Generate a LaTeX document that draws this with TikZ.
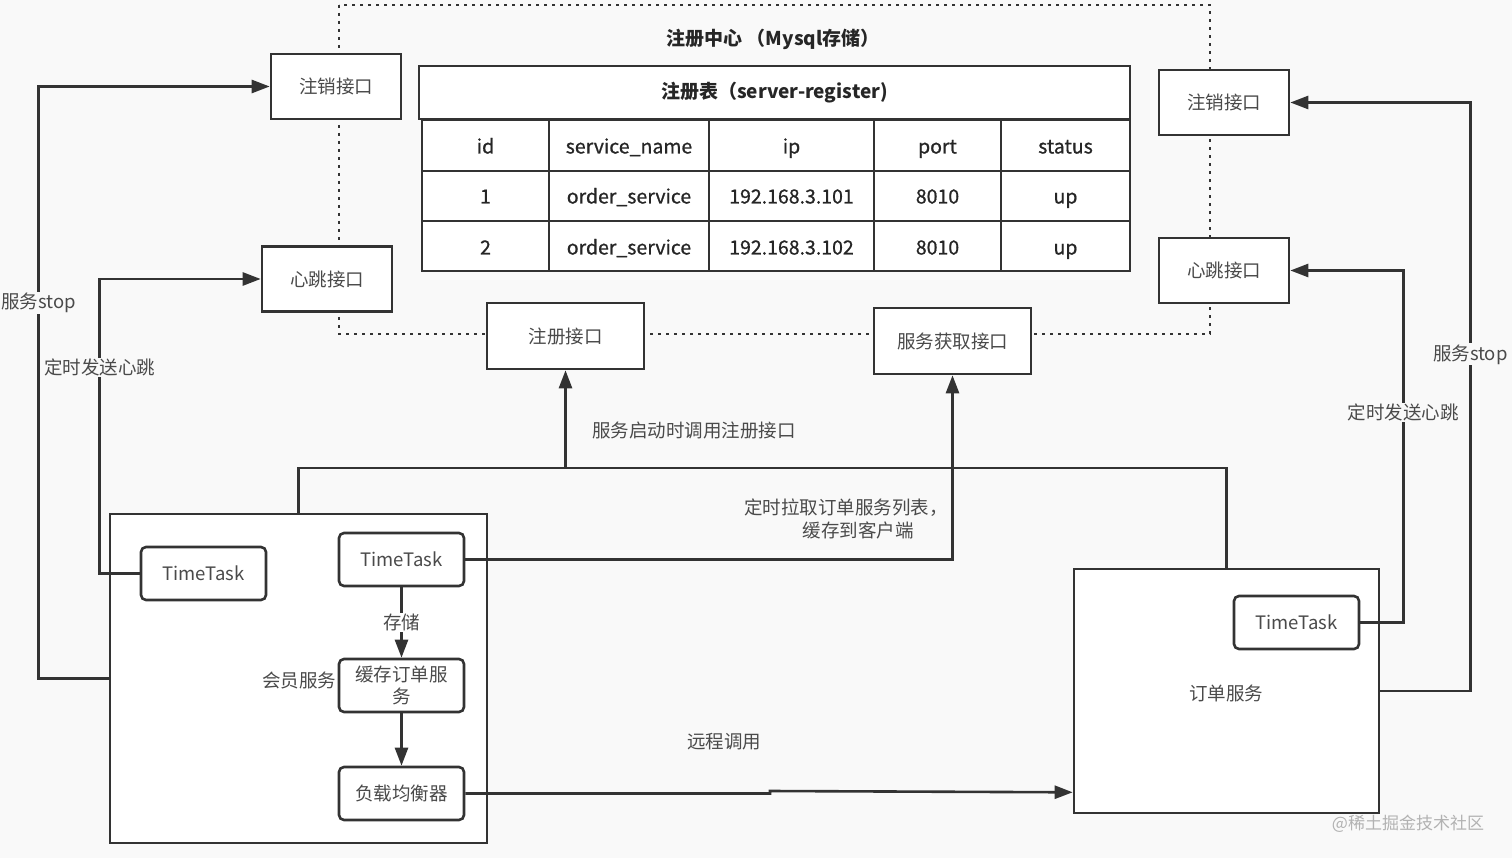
\documentclass[tikz,border=0pt]{standalone}
\usepackage{fontspec}
\setmainfont{Noto Sans CJK SC}
\usetikzlibrary{arrows.meta,calc}
\definecolor{bg}{HTML}{F9F9F9}
\definecolor{ln}{HTML}{333333}
\definecolor{tx}{HTML}{4A4A4A}
\definecolor{tb}{HTML}{262626}
\newcommand\myfs{\fontsize{18.5}{23}\selectfont}
\newcommand\mytfs{\fontsize{19.5}{24}\selectfont\addfontfeature{FakeBold=0.8}}
\begin{document}
\begin{tikzpicture}[x=1pt,y=-1pt,
  ibox/.style={draw=ln, line width=2.6pt, fill=white, text=tx, font=\myfs, inner sep=0pt, minimum width=130pt, minimum height=65pt},
  rbox/.style={ibox, rounded corners=5pt, minimum width=125pt, minimum height=53pt},
  bigbox/.style={draw=ln, line width=2.6pt, fill=white, inner sep=0pt},
  conn/.style={draw=ln, line width=2.6pt},
  arr/.style={conn, -{Triangle[length=18pt,width=13pt]}},
  lbl/.style={text=tx, font=\myfs, inner sep=1pt, fill=bg},
  cell/.style={text=tb, font=\mytfs, inner sep=0pt, text height=14pt, text depth=5pt},
  dots/.style={draw=ln, line width=2.6pt, dash pattern=on 2.6pt off 5.4pt}
]
\fill[bg] (0,0) rectangle (1512,858);
\useasboundingbox (0,0) rectangle (1512,858);

% registry dotted frame
\draw[dots] (339,5) rectangle (1210,334);
\node[text=tb, font=\bfseries\fontsize{19}{24}\selectfont] (title) at (773,39) {注册中心 （Mysql存储）};

% table
\node[draw=ln, line width=2.6pt, fill=white, minimum width=711pt, minimum height=53pt, inner sep=0pt, text=tb, font=\bfseries\fontsize{19}{24}\selectfont] (hdr) at (774.5,92.5) {注册表（server-register)};
\fill[white] (422,120) rectangle (1130,271);
\draw[ln, line width=2.6pt] (422,120) rectangle (1130,271);
\foreach \xx in {549,709,874,1001} {\draw[ln, line width=2.6pt] (\xx,120) -- (\xx,271);}
\foreach \yy in {171,221} {\draw[ln, line width=2.6pt] (422,\yy) -- (1130,\yy);}
\node[cell] (h1) at (485.5,149) {id};
\node[cell] (h2) at (629,149) {service\_name};
\node[cell] (h3) at (791.5,149) {ip};
\node[cell] (h4) at (937.5,149) {port};
\node[cell] (h5) at (1065.5,149) {status};
\node[cell] (a1) at (485.5,199) {1};
\node[cell] (a2) at (629,199) {order\_service};
\node[cell] (a3) at (791.5,199) {192.168.3.101};
\node[cell] (a4) at (937.5,199) {8010};
\node[cell] (a5) at (1065.5,199) {up};
\node[cell] (b1) at (485.5,250) {2};
\node[cell] (b2) at (629,250) {order\_service};
\node[cell] (b3) at (791.5,250) {192.168.3.102};
\node[cell] (b4) at (937.5,250) {8010};
\node[cell] (b5) at (1065.5,250) {up};

% interface boxes
\node[ibox] (zxL) at (336,86.5) {注销接口};
\node[ibox] (xtL) at (327,279) {心跳接口};
\node[ibox, minimum width=157pt, minimum height=66pt] (zc) at (565.5,336) {注册接口};
\node[ibox, minimum width=157pt, minimum height=66pt] (hq) at (952.5,341) {服务获取接口};
\node[ibox] (zxR) at (1224,102.5) {注销接口};
\node[ibox] (xtR) at (1224,270.5) {心跳接口};

% member service
\node[bigbox, minimum width=377pt, minimum height=329pt] (member) at (298.5,678.5) {};
\node[text=tx, font=\myfs, inner sep=0pt] (memlbl) at (299,680) {会员服务};
\node[rbox] (ttA) at (203.5,573.5) {TimeTask};
\node[rbox] (ttB) at (401.5,559.5) {TimeTask};
\node[rbox, align=center, font=\fontsize{18.5}{22}\selectfont] (cache) at (401.5,685.5) {缓存订单服\\务};
\node[rbox] (lb) at (401.5,793.5) {负载均衡器};

% order service
\node[bigbox, minimum width=305pt, minimum height=244pt] (order) at (1226.5,691) {};
\node[text=tx, font=\myfs, inner sep=0pt] (ordlbl) at (1226,693) {订单服务};
\node[rbox] (ttC) at (1296.5,622.5) {TimeTask};

% connectors inside member
\draw[arr] (ttB.south) -- (cache.north) node[midway, fill=white, text=tx, font=\myfs, inner sep=1pt] {存储};
\draw[arr] (cache.south) -- (lb.north);

% left connectors
\draw[arr] (member.west) -- ++(-70,0) |- (zxL.west) node[pos=0.317, lbl] {服务stop};
\draw[arr] (ttA.west) -- ++(-40,0) |- (xtL.west) node[pos=0.35, lbl] {定时发送心跳};

% register on startup
\coordinate (j) at (565.5,468);
\draw[conn] (member.north) |- (j);
\draw[conn] (order.north) |- (j);
\draw[arr] (j) -- (zc.south);
\node[text=tx, font=\myfs, inner sep=0pt] (regl) at (694,430) {服务启动时调用注册接口};

% pull list
\draw[arr] (ttB.east) -| (hq.south);
\node[text=tx, font=\myfs, align=right, inner sep=0pt, anchor=east] (pulll) at (948,519) {定时拉取订单服务列表，\\缓存到客户端\hspace*{34pt}};

% remote call
\draw[arr] (lb.east) -- (770,793.5) -- (770,791) -- ($(order.south west)+(0,-22)$);
\node[text=tx, font=\myfs, inner sep=0pt] (rcl) at (724,742) {远程调用};

% right connectors
\draw[arr] (ttC.east) -- ++(43,0) |- (xtR.east) node[pos=0.298, lbl] {定时发送心跳};
\draw[arr] (order.east) -- ++(90,0) |- (zxR.east) node[pos=0.286, lbl] {服务stop};

% watermark
\node[text=gray!60, font=\fontsize{17}{20}\selectfont, inner sep=0pt] (wm) at (1408,824) {@稀土掘金技术社区};
\end{tikzpicture}
\end{document}
